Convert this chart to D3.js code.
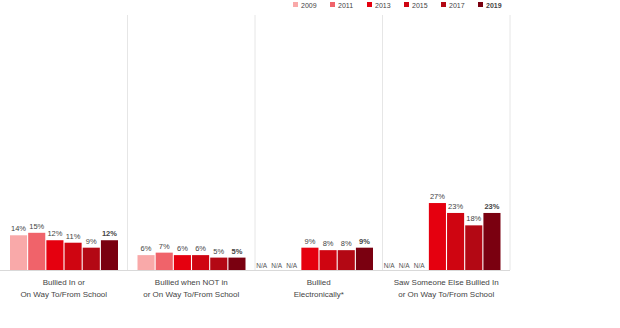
<!DOCTYPE html>
<html><head><meta charset="utf-8">
<script src="https://cdn.jsdelivr.net/npm/d3@7"></script>
<style>body{margin:0;background:#fff}svg{display:block}</style>
</head><body>
<svg id="c" width="620" height="328"></svg>
<script>
const years = ["2009","2011","2013","2015","2017","2019"];
const colors = ["#f9a9a9","#f0636a","#e5000f","#cf0511","#b30814","#7a0010"];
const categories = [
  ["Bullied In or","On Way To/From School"],
  ["Bullied when NOT in","or On Way To/From School"],
  ["Bullied","Electronically*"],
  ["Saw Someone Else Bullied In","or On Way To/From School"]
];
const v2009 = [14, 6, null, null];
const v2011 = [15, 7, null, null];
const v2013 = [12, 6, 9, 27];
const v2015 = [11, 6, 8, 23];
const v2017 = [9, 5, 8, 18];
const v2019 = [12, 5, 9, 23];
const series = [v2009, v2011, v2013, v2015, v2017, v2019];
const naLabels = ["N/A","N/A","N/A"];

const svg = d3.select("#c");
const x0 = d3.scaleBand().domain(d3.range(categories.length)).range([0, 510]);
const x1 = d3.scaleBand().domain(years).range([10, 118]).paddingInner(0.06);
const y = d3.scaleLinear().domain([0, 100]).range([270, 22]);

// dividers
svg.selectAll("line.div").data(d3.range(1, categories.length + 1)).join("line")
  .attr("x1", i => x0.step() * i).attr("x2", i => x0.step() * i)
  .attr("y1", 15).attr("y2", 270)
  .attr("stroke", "#e6e6e6").attr("stroke-width", 1);

// baseline
svg.append("line").attr("x1", 0).attr("x2", 510).attr("y1", y(0) + 0.5).attr("y2", y(0) + 0.5)
  .attr("stroke", "#d9d9d9");

const g = svg.selectAll("g.grp").data(categories).join("g")
  .attr("transform", (d, i) => `translate(${x0(i)},0)`);

g.each(function(cat, ci) {
  const gg = d3.select(this);
  years.forEach((yr, si) => {
    const v = series[si][ci];
    if (v == null) return;
    gg.append("rect").attr("x", x1(yr)).attr("width", x1.bandwidth())
      .attr("y", y(v)).attr("height", y(0) - y(v)).attr("fill", colors[si]);
    gg.append("text").attr("x", x1(yr) + x1.bandwidth() / 2).attr("y", y(v) - 4)
      .attr("text-anchor", "middle").attr("font-family", "Liberation Sans, Arial")
      .attr("font-size", 7.5).attr("font-weight", si === 5 ? "bold" : "normal")
      .attr("fill", "#444").text(v + "%");
  });
  const nNull = series.filter(s => s[ci] == null).length;
  if (nNull > 0) {
    const endX = x1(years[nNull - 1]) + x1.bandwidth() / 2;
    naLabels.forEach((t, k) => {
      gg.append("text").attr("x", endX - (naLabels.length - 1 - k) * 15).attr("y", y(0) - 2)
        .attr("text-anchor", "middle").attr("font-family", "Liberation Sans, Arial")
        .attr("font-size", 6.5).attr("fill", "#555").text(t);
    });
  }
  cat.forEach((line, li) => {
    gg.append("text").attr("x", x0.bandwidth() / 2).attr("y", 285 + li * 12)
      .attr("text-anchor", "middle").attr("font-family", "Liberation Sans, Arial")
      .attr("font-size", 8).attr("fill", "#444").text(line);
  });
});

// legend
const lg = svg.append("g").attr("transform", "translate(293,0)");
years.forEach((yr, i) => {
  const it = lg.append("g").attr("transform", `translate(${i * 37},0)`);
  it.append("rect").attr("x", 0).attr("y", 2).attr("width", 5).attr("height", 5).attr("fill", colors[i]);
  it.append("text").attr("x", 8).attr("y", 7.5).attr("font-family", "Liberation Sans, Arial")
    .attr("font-size", 7).attr("font-weight", i === 5 ? "bold" : "normal")
    .attr("fill", "#444").text(yr);
});
</script>
</body></html>
